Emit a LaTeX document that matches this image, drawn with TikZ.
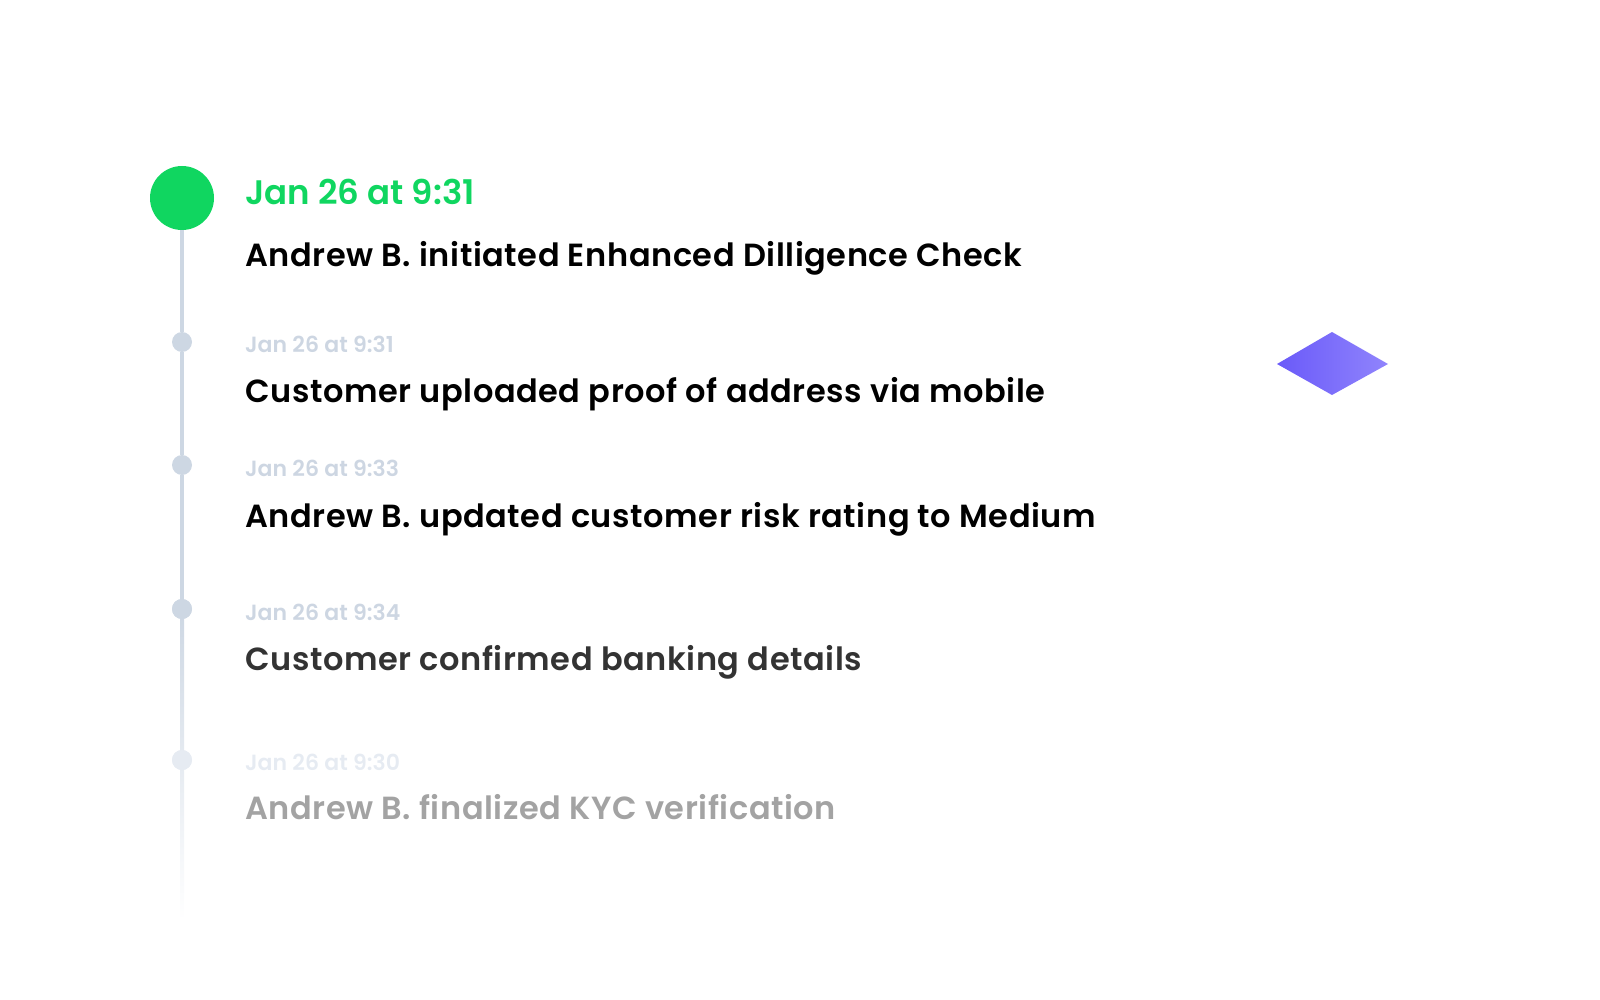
\documentclass[tikz,border=0pt]{standalone}
\usepackage{fontspec}
\setmainfont{Poppins}[UprightFont=* Medium, BoldFont=* SemiBold]
\newfontfamily\entryfont{Poppins}[UprightFont=* SemiBold, LetterSpace=1.8]
\usetikzlibrary{calc, positioning}

\definecolor{evgreen}{HTML}{10D660}
\definecolor{railgray}{HTML}{CDD7E3}
\definecolor{railpale}{HTML}{E6EBF2}
\definecolor{stampgray}{HTML}{CDD6E2}
\definecolor{inkdark}{HTML}{333333}
\definecolor{inkfade}{HTML}{A3A3A3}
\definecolor{gemleft}{HTML}{6A5AF9}
\definecolor{gemright}{HTML}{9084FC}

\tikzset{
  bigdot/.style={circle, fill=evgreen, minimum size=64pt, inner sep=0pt},
  smalldot/.style={circle, fill=railgray, minimum size=20pt, inner sep=0pt},
  stamp/.style={anchor=base west, inner sep=0pt, font=\bfseries\fontsize{22}{26}\selectfont, text=stampgray},
  entry/.style={anchor=base west, inner sep=0pt, font=\entryfont\fontsize{32}{36}\selectfont}
}

\begin{document}
\begin{tikzpicture}[x=1pt, y=-1pt]
  \useasboundingbox (0,0) rectangle (1600,1000);
  % dots on the rail
  \node [bigdot] (d1) at (182,198) {};
  \node [smalldot] (d2) at (182,342) {};
  \node [smalldot] (d3) at (182,465) {};
  \node [smalldot] (d4) at (182,609) {};
  \node [smalldot, fill=railpale] (d5) at (182,760) {};
  \coordinate (railend) at (182,920);
  % rail
  \shade [top color=railgray, bottom color=white] ($(d4.center)+(-2,0)$) rectangle ($(railend)+(2,0)$);
  \draw [railgray, line width=4pt] (d1) -- (d2) -- (d3) -- (d4.center);
  \node [smalldot] at (d4) {};
  \node [smalldot, fill=railpale] at (d5) {};
  % texts
  \node [stamp, text=evgreen, font=\bfseries\fontsize{34}{40}\selectfont] (s1) at (245,205) {Jan 26 at 9:31};
  \node [entry, text=black] (e1) at (245,266) {Andrew B. initiated Enhanced Dilligence Check};
  \node [stamp] (s2) at (245,352) {Jan 26 at 9:31};
  \node [entry, text=black] (e2) at (245,402) {Customer uploaded proof of address via mobile};
  \node [stamp] (s3) at (245,476) {Jan 26 at 9:33};
  \node [entry, text=black] (e3) at (245,527) {Andrew B. updated customer risk rating to Medium};
  \node [stamp] (s4) at (245,620) {Jan 26 at 9:34};
  \node [entry, text=inkdark] (e4) at (245,670) {Customer confirmed banking details};
  \node [stamp, text=railpale] (s5) at (245,770) {Jan 26 at 9:30};
  \node [entry, text=inkfade] (e5) at (245,819) {Andrew B. finalized KYC verification};
  % gem
  \shade [left color=gemleft, right color=gemright] (1277,364) -- (1332,332) -- (1388,364) -- (1332,395) -- cycle;
\end{tikzpicture}
\end{document}
